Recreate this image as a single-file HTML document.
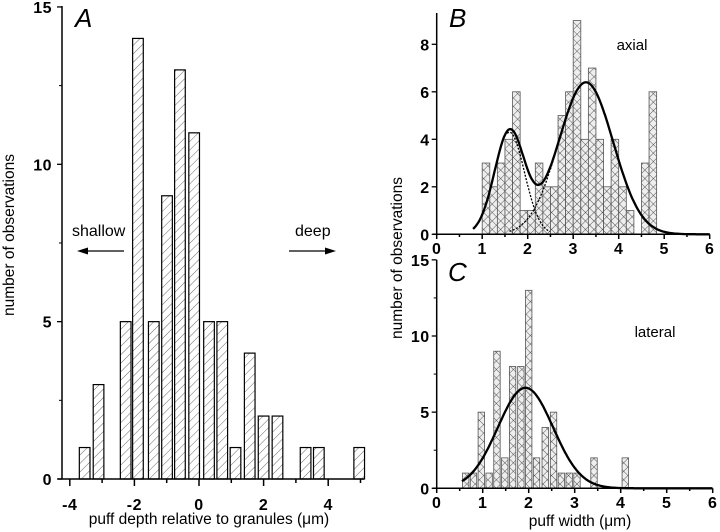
<!DOCTYPE html>
<html><head><meta charset="utf-8">
<style>
html,body{margin:0;padding:0;background:#fff;}
svg{display:block;font-family:"Liberation Sans",sans-serif;}
</style></head>
<body>
<svg id="chart" width="720" height="532" viewBox="0 0 720 532">
<defs>
<pattern id="hatch" width="6" height="6" patternUnits="userSpaceOnUse" patternTransform="rotate(45)">
<rect width="6" height="6" fill="#fff"/><line x1="0" y1="0" x2="0" y2="6" stroke="#444" stroke-width="0.8"/>
</pattern>
<pattern id="cross" width="6" height="6" patternUnits="userSpaceOnUse" patternTransform="rotate(45)">
<rect width="6" height="6" fill="#eee"/><line x1="0" y1="0" x2="0" y2="6" stroke="#333" stroke-width="0.8"/><line x1="0" y1="0" x2="6" y2="0" stroke="#333" stroke-width="0.8"/>
</pattern>
</defs>
<g id="gA"></g>
<g id="gB"></g>
<g id="gC"></g>
<text x="10" y="235" transform="rotate(-90 10 235)" text-anchor="middle" dominant-baseline="middle" font-size="15.5">number of observations</text>
<text x="209" y="524" text-anchor="middle" font-size="15.5">puff depth relative to granules (μm)</text>
<text x="398" y="258" transform="rotate(-90 398 258)" text-anchor="middle" dominant-baseline="middle" font-size="15.5">number of observations</text>
<text x="580" y="526" text-anchor="middle" font-size="15.5">puff width (μm)</text>
<text x="75" y="27" font-size="26" font-style="italic">A</text>
<text x="449" y="27" font-size="26" font-style="italic">B</text>
<text x="448" y="281" font-size="26" font-style="italic">C</text>
<text x="72" y="236" font-size="16">shallow</text>
<text x="295" y="236" font-size="16">deep</text>
<line x1="124" y1="251" x2="80" y2="251" stroke="#000" stroke-width="1.3"/>
<polygon points="77,251 88,247.5 88,254.5" fill="#000"/>
<line x1="289" y1="251" x2="332" y2="251" stroke="#000" stroke-width="1.3"/>
<polygon points="336,251 325,247.5 325,254.5" fill="#000"/>
<text x="632" y="50" font-size="15" text-anchor="middle">axial</text>
<text x="655" y="337" font-size="15" text-anchor="middle">lateral</text>
</svg>
<script>
// Panel A data
const aCenters = [-3.54,-3.11,-2.27,-1.89,-1.40,-0.99,-0.59,-0.15,0.31,0.72,1.13,1.57,2.0,2.43,3.30,3.71,4.96];
const aCounts = [1,3,5,14,5,9,13,11,5,5,1,4,2,2,1,1,1];
const aXTicks = [-4,-2,0,2,4];
const aYTicks = [0,5,10,15];
// Panel B data
const bStarts = [1.0,1.167,1.333,1.5,1.667,1.833,2.0,2.167,2.333,2.5,2.667,2.833,3.0,3.167,3.333,3.5,3.667,3.833,4.0,4.167,4.5,4.667];
const bCounts = [3,2,3,4,6,1,1,3,2,2,5,6,9,4,7,4,2,4,2,1,3,6];
const bGauss1 = [4.3,1.6,0.33];
const bGauss2 = [6.4,3.28,0.6];
const bXTicks = [0,1,2,3,4,5,6];
const bYTicks = [0,2,4,6,8];
// Panel C data
const cCenters = [0.63,0.80,0.97,1.14,1.31,1.48,1.65,1.83,2.0,2.17,2.36,2.54,2.71,2.88,3.05,3.42,4.1];
const cCounts = [1,1,5,1,9,2,8,8,13,2,4,5,1,1,1,2,2];
const cGauss = [6.6,1.93,0.6];
const cXTicks = [0,1,2,3,4,5,6];
const cYTicks = [0,5,10,15];

const NS="http://www.w3.org/2000/svg";
const TICK={'font-size':'16','font-weight':'bold','letter-spacing':'0.5'};
function mk(parent,tag,attrs){const e=document.createElementNS(NS,tag);for(const k in attrs)e.setAttribute(k,attrs[k]);parent.appendChild(e);return e;}
function g(p,x){return p[0]*Math.exp(-0.5*Math.pow((x-p[1])/p[2],2));}

// Panel A axes
const ax=v=>199+v*32.3, ay=v=>479-v*31.47;
const gA=document.getElementById('gA');
aCenters.forEach((c,i)=>{
  const r=mk(gA,'rect',{x:ax(c-0.165),y:ay(aCounts[i]),width:0.33*32.3,height:ay(0)-ay(aCounts[i]),fill:'url(#hatch)',stroke:'#000','stroke-width':1.2});
  
  
});
mk(gA,'line',{x1:62,y1:6,x2:62,y2:479,stroke:'#000','stroke-width':1.5});
mk(gA,'line',{x1:58,y1:479,x2:364,y2:479,stroke:'#000','stroke-width':1.5});
aYTicks.forEach(v=>{mk(gA,'line',{x1:57,x2:62,y1:ay(v),y2:ay(v),stroke:'#000','stroke-width':1.3});
  const t=mk(gA,'text',Object.assign({x:52,y:ay(v)+6,'text-anchor':'end'},TICK));t.textContent=v;
  
  });
[2.5,7.5,12.5].forEach(v=>mk(gA,'line',{x1:59,x2:62,y1:ay(v),y2:ay(v),stroke:'#000','stroke-width':1}));
for(let v=-4;v<=5;v++){mk(gA,'line',{x1:ax(v),x2:ax(v),y1:479,y2:v%2?483:486,stroke:'#000','stroke-width':1.5});}
aXTicks.forEach(v=>{const t=mk(gA,'text',Object.assign({x:ax(v),y:510,'text-anchor':'middle'},TICK));t.textContent=v;
  
  });

// Panel B axes
const bx=v=>436.7+v*45.5, by=v=>234.3-v*23.75;
const gB=document.getElementById('gB');
bStarts.forEach((s,i)=>{
  const r=mk(gB,'rect',{x:bx(s),y:by(bCounts[i]),width:0.167*45.5,height:by(0)-by(bCounts[i]),fill:'url(#cross)',stroke:'#555','stroke-width':0.8});
  
  
});
function curve(par,fn,x0,x1,sx,sy,attrs,name){let d='';for(let x=x0;x<=x1+1e-9;x+=0.02){d+=(d?'L':'M')+sx(x).toFixed(1)+','+sy(fn(x)).toFixed(1);}
  const p=mk(par,'path',Object.assign({d:d,fill:'none'},attrs));}
curve(gB,x=>g(bGauss1,x),1.55,2.5,bx,by,{stroke:'#000','stroke-width':1.3,'stroke-dasharray':'2,1.5'},'b-fit-component-1');
curve(gB,x=>g(bGauss2,x),1.6,3.0,bx,by,{stroke:'#000','stroke-width':1.3,'stroke-dasharray':'2,1.5'},'b-fit-component-2');
curve(gB,x=>g(bGauss1,x)+g(bGauss2,x),0.8,6,bx,by,{stroke:'#000','stroke-width':2.3},'b-fit-sum');
mk(gB,'line',{x1:bx(0),y1:13,x2:bx(0),y2:234.3,stroke:'#000','stroke-width':1.5});
mk(gB,'line',{x1:bx(0)-4,y1:234.3,x2:bx(6),y2:234.3,stroke:'#000','stroke-width':1.5});
bYTicks.forEach(v=>{mk(gB,'line',{x1:bx(0)-5,x2:bx(0),y1:by(v),y2:by(v),stroke:'#000','stroke-width':1.3});
  const t=mk(gB,'text',Object.assign({x:bx(0)-7,y:by(v)+6,'text-anchor':'end'},TICK));t.textContent=v;
  
  });
for(let v=0;v<=12;v++){mk(gB,'line',{x1:bx(v/2),x2:bx(v/2),y1:234.3,y2:v%2?237:239,stroke:'#000','stroke-width':1.5});}
bXTicks.forEach(v=>{const t=mk(gB,'text',Object.assign({x:bx(v),y:254,'text-anchor':'middle'},TICK));t.textContent=v;
  
  });

// Panel C axes
const cx=v=>436.7+v*46, cy=v=>488.3-v*15.23;
const gC=document.getElementById('gC');
cCenters.forEach((c,i)=>{
  const r=mk(gC,'rect',{x:cx(c-0.07),y:cy(cCounts[i]),width:0.14*46,height:cy(0)-cy(cCounts[i]),fill:'url(#cross)',stroke:'#555','stroke-width':0.8});
  
  
});
curve(gC,x=>g(cGauss,x),0.55,6,cx,cy,{stroke:'#000','stroke-width':2.3},'c-fit');
mk(gC,'line',{x1:cx(0),y1:cy(15),x2:cx(0),y2:488.3,stroke:'#000','stroke-width':1.5});
mk(gC,'line',{x1:cx(0)-4,y1:488.3,x2:cx(6),y2:488.3,stroke:'#000','stroke-width':1.5});
cYTicks.forEach(v=>{mk(gC,'line',{x1:cx(0)-5,x2:cx(0),y1:cy(v),y2:cy(v),stroke:'#000','stroke-width':1.3});
  const t=mk(gC,'text',Object.assign({x:cx(0)-7,y:cy(v)+6,'text-anchor':'end'},TICK));t.textContent=v;
  
  });
[2.5,7.5,12.5].forEach(v=>mk(gC,'line',{x1:cx(0)-3,x2:cx(0),y1:cy(v),y2:cy(v),stroke:'#000','stroke-width':1}));
for(let v=0;v<=12;v++){mk(gC,'line',{x1:cx(v/2),x2:cx(v/2),y1:488.3,y2:v%2?491:493,stroke:'#000','stroke-width':1.5});}
cXTicks.forEach(v=>{const t=mk(gC,'text',Object.assign({x:cx(v),y:508,'text-anchor':'middle'},TICK));t.textContent=v;
  
  });
</script>
</body></html>
